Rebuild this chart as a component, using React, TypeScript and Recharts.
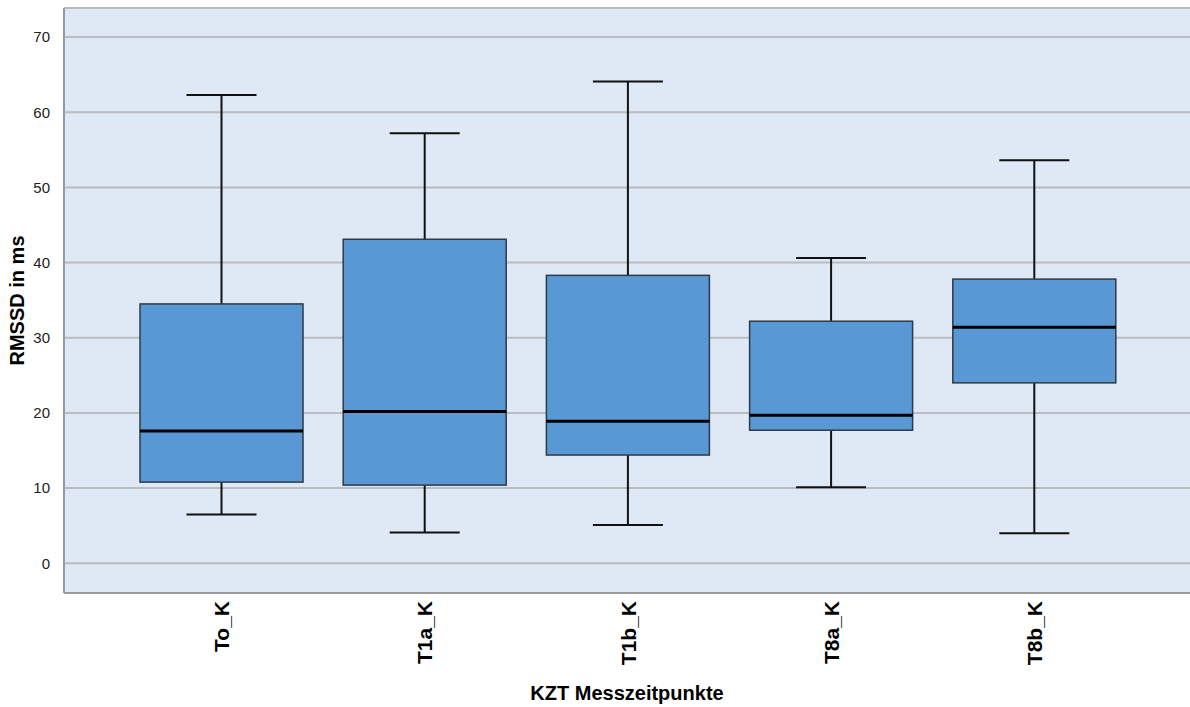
import React from "react";
import { Bar, ComposedChart, CartesianGrid, XAxis, YAxis } from "recharts";

const categories = ["To_K", "T1a_K", "T1b_K", "T8a_K", "T8b_K"];
const whiskerLow = [6.5, 4.1, 5.1, 10.1, 4.0];
const q1 = [10.8, 10.4, 14.4, 17.7, 24.0];
const median = [17.6, 20.2, 18.9, 19.7, 31.4];
const q3 = [34.5, 43.1, 38.3, 32.2, 37.8];
const whiskerHigh = [62.3, 57.2, 64.1, 40.6, 53.6];
const yTicks = [0, 10, 20, 30, 40, 50, 60, 70];

const data = categories.map((name, i) => ({
  name,
  min: whiskerLow[i],
  q1: q1[i],
  median: median[i],
  q3: q3[i],
  max: whiskerHigh[i],
  range: [whiskerLow[i], whiskerHigh[i]],
}));

const FONT = "'Liberation Sans', Arial, sans-serif";

function BoxShape(props: any) {
  const { x, y, width, height, payload } = props;
  const span = payload.max - payload.min;
  const toY = (v: number) => y + ((payload.max - v) / span) * height;
  const cx = x + width / 2;
  const capHalf = 35;
  const yQ3 = toY(payload.q3);
  const yQ1 = toY(payload.q1);
  const yMed = toY(payload.median);
  const yMax = toY(payload.max);
  const yMin = toY(payload.min);
  return (
    <g>
      <line x1={cx} x2={cx} y1={yMax} y2={yQ3} stroke="#111" strokeWidth={2} />
      <line x1={cx} x2={cx} y1={yQ1} y2={yMin} stroke="#111" strokeWidth={2} />
      <line x1={cx - capHalf} x2={cx + capHalf} y1={yMax} y2={yMax} stroke="#111" strokeWidth={2} />
      <line x1={cx - capHalf} x2={cx + capHalf} y1={yMin} y2={yMin} stroke="#111" strokeWidth={2} />
      <rect x={x} y={yQ3} width={width} height={yQ1 - yQ3} fill="#5898d4" stroke="#2f3a46" strokeWidth={1.5} />
      <line x1={x} x2={x + width} y1={yMed} y2={yMed} stroke="#000" strokeWidth={3} />
    </g>
  );
}

function XTick(props: any) {
  const { x, y, payload } = props;
  return (
    <text
      x={x}
      y={y}
      transform={`rotate(-90, ${x}, ${y})`}
      textAnchor="end"
      dominantBaseline="central"
      fontFamily={FONT}
      fontSize={21}
      fontWeight="bold"
      fill="#000"
    >
      {payload.value}
    </text>
  );
}

export default function App() {
  return (
    <div style={{ position: "absolute", left: 0, top: 0, width: 1190, height: 707, background: "#fff" }}>
      <ComposedChart
        width={1190}
        height={707}
        data={data}
        margin={{ top: 8, right: 0, bottom: 0, left: 0 }}
      >
        <CartesianGrid vertical={false} horizontal={false} stroke="none" fill="#dfe9f5" />
        <CartesianGrid vertical={false} stroke="#b9bcc0" strokeWidth={2} fill="none" />
        <XAxis
          dataKey="name"
          padding={{ left: 56, right: 54 }}
          tick={<XTick />}
          tickLine={false}
          axisLine={{ stroke: "#9a9a9a", strokeWidth: 2 }}
          tickMargin={2}
          height={114}
          interval={0}
          label={{
            value: "KZT Messzeitpunkte",
            position: "insideBottom",
            offset: 7,
            style: { fontFamily: FONT, fontSize: 20, fontWeight: "bold", fill: "#000" },
          }}
        />
        <YAxis
          width={64}
          domain={[-3.95, 73.86]}
          ticks={yTicks}
          allowDataOverflow
          tickLine={false}
          axisLine={{ stroke: "#9a9a9a", strokeWidth: 2 }}
          tick={{ fontFamily: FONT, fontSize: 15, fill: "#222" }}
          tickMargin={8}
          label={{
            value: "RMSSD in ms",
            angle: -90,
            position: "insideLeft",
            offset: 17,
            style: { fontFamily: FONT, fontSize: 20, fontWeight: "bold", fill: "#000", textAnchor: "middle" },
          }}
        />
        <Bar dataKey="range" barSize={163} shape={<BoxShape />} isAnimationActive={false} />
      </ComposedChart>
    </div>
  );
}
